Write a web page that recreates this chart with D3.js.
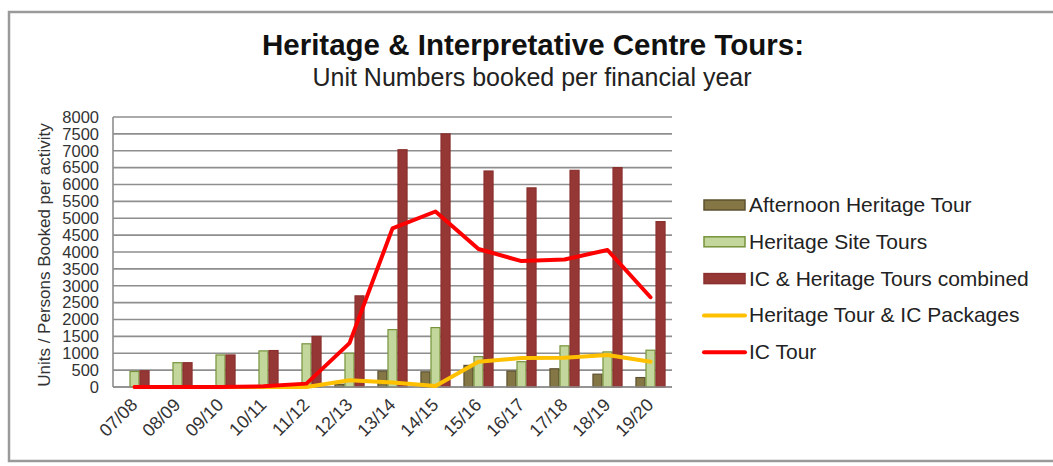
<!DOCTYPE html>
<html>
<head>
<meta charset="utf-8">
<script src="https://cdn.jsdelivr.net/npm/d3@7"></script>
<style>
  body { margin: 0; background: #fff; }
  svg { display: block; font-family: "Liberation Sans", Arial, sans-serif; }
</style>
</head>
<body>
<svg id="chart"></svg>
<script>
// financial years
let years = ['07/08', '08/09', '09/10', '10/11', '11/12', '12/13', '13/14',
             '14/15', '15/16', '16/17', '17/18', '18/19', '19/20']

// bar series
let afternoonTour = [0, 0, 0, 0, 0, 80, 470, 450, 640, 470, 540, 380, 280]
let siteTours     = [460, 720, 950, 1070, 1280, 1000, 1700, 1760, 900, 750, 1220, 1040, 1090]
let combined      = [480, 720, 950, 1080, 1500, 2700, 7030, 7500, 6400, 5900, 6420, 6500, 4900]

// line series
let packages = [0, 0, 0, 0, 0, 200, 130, 30, 750, 860, 870, 950, 750]
let icTour   = [0, 0, 0, 20, 100, 1300, 4700, 5200, 4090, 3730, 3780, 4060, 2660]

let yTicks = d3.range(0, 8001, 500)

let barSeries = [
    {name: 'Afternoon Heritage Tour', values: afternoonTour, fill: '#857745', stroke: '#5c5130'},
    {name: 'Heritage Site Tours', values: siteTours, fill: '#c3d69b', stroke: '#77933c'},
    {name: 'IC & Heritage Tours combined', values: combined, fill: '#953735', stroke: '#8a302e'}
]
let lineSeries = [
    {name: 'Heritage Tour & IC Packages', values: packages, color: '#ffc000'},
    {name: 'IC Tour', values: icTour, color: '#ff0000'}
]

let width = 1053,
    height = 466,
    plot = {left: 113, right: 672, top: 117, bottom: 387}

let $svg = d3.select('#chart')
    .attr('width', width)
    .attr('height', height)

// outer chart frame (right edge runs off the picture)
$svg.append('rect')
    .attr('x', 9).attr('y', 12)
    .attr('width', 1060).attr('height', 449)
    .attr('fill', 'none')
    .attr('stroke', '#9a9a9a')
    .attr('stroke-width', 2.5)

// titles
$svg.append('text')
    .attr('x', 533).attr('y', 55)
    .attr('text-anchor', 'middle')
    .attr('font-size', 29.5)
    .attr('font-weight', 'bold')
    .attr('fill', '#111')
    .text('Heritage & Interpretative Centre Tours:')

$svg.append('text')
    .attr('x', 532).attr('y', 86)
    .attr('text-anchor', 'middle')
    .attr('font-size', 25)
    .attr('fill', '#222')
    .text('Unit Numbers booked per financial year')

let xScale = d3.scaleBand()
    .domain(years)
    .range([plot.left, plot.right])
    .paddingInner(0.3)
    .paddingOuter(0.15)

let xInner = d3.scaleBand()
    .domain(barSeries.map(s => s.name))
    .range([0, xScale.bandwidth()])

let yScale = d3.scaleLinear()
    .domain([0, 8000])
    .range([plot.bottom, plot.top])

// gridlines
$svg.append('g')
    .selectAll('line')
    .data(yTicks)
    .join('line')
    .attr('x1', plot.left).attr('x2', plot.right)
    .attr('y1', d => yScale(d)).attr('y2', d => yScale(d))
    .attr('stroke', '#8e8e8e')
    .attr('stroke-width', 1.6)

// left axis line
$svg.append('line')
    .attr('x1', plot.left).attr('x2', plot.left)
    .attr('y1', plot.top).attr('y2', plot.bottom)
    .attr('stroke', '#8e8e8e')
    .attr('stroke-width', 1.6)

// y axis labels
let yAxis = $svg.append('g')
    .attr('transform', `translate(${plot.left},0)`)
    .call(d3.axisLeft(yScale).tickValues(yTicks).tickFormat(d3.format('d')).tickSize(0).tickPadding(14))
yAxis.select('.domain').remove()
yAxis.selectAll('text')
    .attr('font-size', 16.5)
    .attr('font-family', '"Liberation Sans", Arial, sans-serif')
    .attr('fill', '#333')

$svg.append('text')
    .attr('transform', `translate(50,${(plot.top + plot.bottom) / 2 + 3}) rotate(-90)`)
    .attr('text-anchor', 'middle')
    .attr('font-size', 17)
    .attr('fill', '#333')
    .text('Units / Persons Booked per activity')

// bars
let groups = $svg.append('g')
    .selectAll('g')
    .data(years)
    .join('g')
    .attr('transform', d => `translate(${xScale(d)},0)`)

groups.selectAll('rect')
    .data((d, i) => barSeries.map(s => ({s: s, v: s.values[i]})))
    .join('rect')
    .attr('x', d => xInner(d.s.name) + 0.5)
    .attr('width', xInner.bandwidth() - 1)
    .attr('y', d => yScale(d.v))
    .attr('height', d => yScale(0) - yScale(d.v))
    .attr('fill', d => d.s.fill)
    .attr('stroke', d => d.v > 0 ? d.s.stroke : 'none')
    .attr('stroke-width', 1.2)

// bottom axis line
$svg.append('line')
    .attr('x1', plot.left).attr('x2', plot.right)
    .attr('y1', plot.bottom).attr('y2', plot.bottom)
    .attr('stroke', '#8e8e8e')
    .attr('stroke-width', 1.6)

// lines
let lineFunction = d3.line()
    .x((d, i) => xScale(years[i]) + xScale.bandwidth() / 2)
    .y(d => yScale(d))

lineSeries.forEach(s => {
    $svg.append('path')
        .attr('d', lineFunction(s.values))
        .attr('fill', 'none')
        .attr('stroke', s.color)
        .attr('stroke-width', 4)
        .attr('stroke-linejoin', 'round')
        .attr('stroke-linecap', 'round')
})

// x axis labels
$svg.append('g')
    .selectAll('text')
    .data(years)
    .join('text')
    .attr('transform', d => `translate(${xScale(d) + xScale.bandwidth() / 2 + 4},${plot.bottom + 19}) rotate(-45)`)
    .attr('text-anchor', 'end')
    .attr('font-size', 18)
    .attr('fill', '#333')
    .text(d => d)

// legend
let legendItems = barSeries.map(s => ({name: s.name, type: 'bar', fill: s.fill, stroke: s.stroke}))
    .concat(lineSeries.map(s => ({name: s.name, type: 'line', color: s.color})))

let legend = $svg.append('g')
    .selectAll('g')
    .data(legendItems)
    .join('g')
    .attr('transform', (d, i) => `translate(704,${205 + i * 36.8})`)

legend.filter(d => d.type === 'bar')
    .append('rect')
    .attr('x', 0).attr('y', -5)
    .attr('width', 41).attr('height', 10)
    .attr('fill', d => d.fill)
    .attr('stroke', d => d.stroke)
    .attr('stroke-width', 1.5)

legend.filter(d => d.type === 'line')
    .append('line')
    .attr('x1', 0).attr('x2', 41)
    .attr('y1', 0).attr('y2', 0)
    .attr('stroke', d => d.color)
    .attr('stroke-width', 4)
    .attr('stroke-linecap', 'round')

legend.append('text')
    .attr('x', 45).attr('y', 7)
    .attr('font-size', 21)
    .attr('fill', '#222')
    .text(d => d.name)
</script>
</body>
</html>
